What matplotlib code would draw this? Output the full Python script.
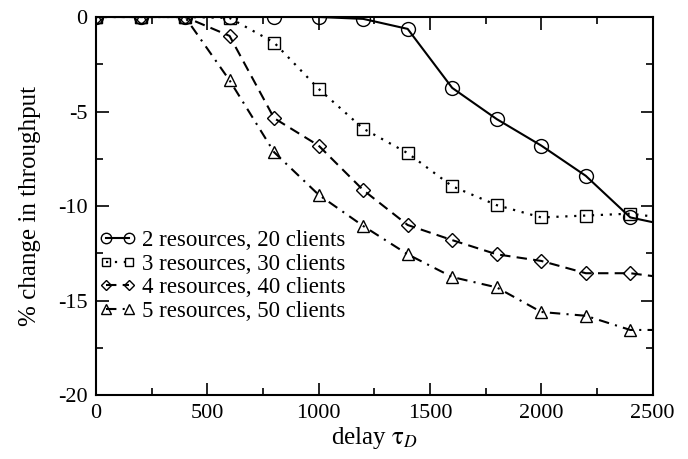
import numpy as np
import matplotlib.pyplot as plt
from matplotlib.ticker import MultipleLocator

plt.rcParams['font.family'] = ['Liberation Serif', 'DejaVu Serif']
plt.rcParams['mathtext.fontset'] = 'stix'
plt.rcParams['axes.unicode_minus'] = False

# delay values (last point lies past the axis edge)
delay = [0, 200, 400, 600, 800, 1000, 1200, 1400, 1600, 1800, 2000, 2200, 2400, 2600]

r2_c20 = [0, 0, 0, 0, 0, 0, -0.1, -0.63, -3.75, -5.4, -6.8, -8.4, -10.6, -11.1]
r3_c30 = [0, 0, 0, -0.05, -1.35, -3.8, -5.9, -7.2, -8.95, -9.95, -10.6, -10.5, -10.4, -10.7]
r4_c40 = [0, 0, 0, -1.0, -5.35, -6.8, -9.15, -11.0, -11.8, -12.55, -12.9, -13.55, -13.55, -13.85]
r5_c50 = [0, 0, 0, -3.35, -7.15, -9.4, -11.05, -12.55, -13.75, -14.3, -15.6, -15.8, -16.55, -16.55]

labels = ['2 resources, 20 clients', '3 resources, 30 clients',
          '4 resources, 40 clients', '5 resources, 50 clients']

fig = plt.figure(figsize=(6.88, 4.59), dpi=100)
ax = fig.add_axes([0.1395, 0.139, 0.809, 0.824])

ax.plot(delay, r2_c20, color='black', linestyle='-', linewidth=1.5,
        marker='o', markersize=10, markerfacecolor='none', markeredgewidth=1.0, label=labels[0])
ax.plot(delay, r3_c30, color='black', linestyle=(0, (1, 3)), linewidth=1.6,
        marker='s', markersize=8, markerfacecolor='none', markeredgewidth=1.0, label=labels[1])
ax.plot(delay, r4_c40, color='black', linestyle=(0, (5, 3)), linewidth=1.5,
        marker='D', markersize=7, markerfacecolor='none', markeredgewidth=1.0, label=labels[2])
ax.plot(delay, r5_c50, color='black', linestyle=(0, (5, 3, 1, 3)), linewidth=1.5,
        marker='^', markersize=9, markerfacecolor='none', markeredgewidth=1.0, label=labels[3])

ax.set_xlim(0, 2500)
ax.set_ylim(-20, 0)
ax.xaxis.set_major_locator(MultipleLocator(500))
ax.xaxis.set_minor_locator(MultipleLocator(250))
ax.yaxis.set_major_locator(MultipleLocator(5))
ax.yaxis.set_minor_locator(MultipleLocator(2.5))
ax.tick_params(which='both', direction='in', top=True, right=True, labelsize=16, width=1.2)
ax.tick_params(which='major', length=9, pad=6)
ax.tick_params(which='minor', length=5)
for s in ax.spines.values():
    s.set_linewidth(1.5)

ax.set_xlabel(r'delay $\mathrm{\tau}_{D}$', fontsize=18, labelpad=2)
ax.set_ylabel('% change in throughput', fontsize=18, labelpad=12)

ax.legend(loc='center left', bbox_to_anchor=(0.005, 0.315), frameon=False,
          fontsize=16.5, handlelength=1.6, handletextpad=0.3, labelspacing=0.12,
          borderpad=0, borderaxespad=0, numpoints=2, markerscale=0.75)

plt.savefig('out.png', dpi=100)
